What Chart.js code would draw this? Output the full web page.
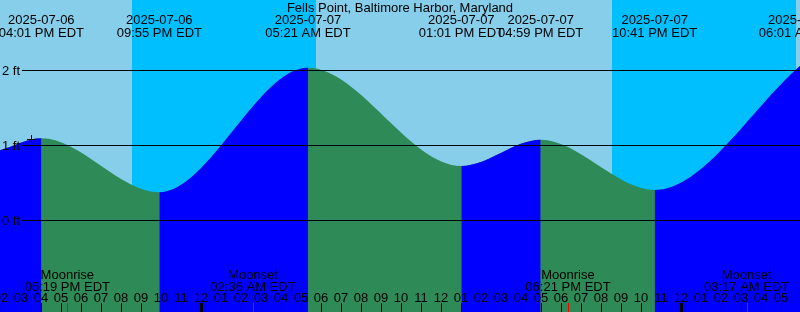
<!DOCTYPE html>
<html>
<head>
<meta charset="utf-8">
<script src="https://cdn.jsdelivr.net/npm/chart.js@4/dist/chart.umd.min.js"></script>
<style>
  body { margin: 0; background: #fff; }
  #tide { display: block; }
</style>
</head>
<body>
<canvas id="tide" width="800" height="312"></canvas>
<script>
// hours counted from 2025-07-06 00:00 EDT
const tideHours = [13.95, 16.017, 21.917, 29.35, 37.017, 40.983, 46.683, 54.017];
const tideFeet = [0.93, 1.09, 0.37, 2.03, 0.72, 1.07, 0.40, 2.07];

// high / low labels along the top (first point is just the window edge)
const eventHours = [16.017, 21.917, 29.35, 37.017, 40.983, 46.683, 54.017];
const eventDates = ['2025-07-06', '2025-07-06', '2025-07-07', '2025-07-07', '2025-07-07', '2025-07-07', '2025-07-08'];
const eventTimes = ['04:01 PM EDT', '09:55 PM EDT', '05:21 AM EDT', '01:01 PM EDT', '04:59 PM EDT', '10:41 PM EDT', '06:01 AM EDT'];

const sunsetHours = [20.55, 44.55];
const sunriseHours = [29.75, 53.75];

const moonHours = [17.317, 26.6, 42.35, 51.283];
const moonNames = ['Moonrise', 'Moonset', 'Moonrise', 'Moonset'];
const moonTimes = ['05:19 PM EDT', '02:36 AM EDT', '06:21 PM EDT', '03:17 AM EDT'];

const nowHour = 15.525;
const nowFeet = 1.073;

const feetTicks = [0, 1, 2];
const title = 'Fells Point, Baltimore Harbor, Maryland';

const startHour = 13.95, endHour = 53.95;
const FONT = '13px "Liberation Sans", Arial, sans-serif';

const tidePlugin = {
  id: 'tide',
  beforeDatasetsDraw(chart) {
    const {ctx, chartArea, scales: {x}} = chart;
    ctx.save();
    ctx.fillStyle = '#87ceeb';
    ctx.fillRect(chartArea.left, chartArea.top, chartArea.width, chartArea.height);
    ctx.fillStyle = '#00bfff';
    sunsetHours.forEach((s, i) => {
      const x0 = x.getPixelForValue(s);
      const x1 = x.getPixelForValue(sunriseHours[i]);
      ctx.fillRect(x0, chartArea.top, x1 - x0, chartArea.height);
    });
    ctx.restore();
  },
  afterDatasetsDraw(chart) {
    const {ctx, chartArea, scales: {x, y}} = chart;
    ctx.save();
    // level lines
    ctx.strokeStyle = '#000';
    ctx.lineWidth = 1;
    ctx.font = FONT;
    ctx.fillStyle = '#000';
    ctx.textBaseline = 'alphabetic';
    feetTicks.forEach(f => {
      const py = Math.round(y.getPixelForValue(f)) + 0.5;
      ctx.beginPath();
      ctx.moveTo(22, py);
      ctx.lineTo(chartArea.right, py);
      ctx.stroke();
      ctx.textAlign = 'left';
      ctx.fillText(f + ' ft', 2, py + 4.5);
    });

    // title
    ctx.textAlign = 'center';
    ctx.fillText(title, (chartArea.left + chartArea.right) / 2, 12);

    // tide events
    eventHours.forEach((h, i) => {
      const px = x.getPixelForValue(h);
      ctx.fillText(eventDates[i], px, 24);
      ctx.fillText(eventTimes[i], px, 37);
    });

    // moon events
    moonHours.forEach((h, i) => {
      const px = x.getPixelForValue(h);
      ctx.fillText(moonNames[i], px, 279);
      ctx.fillText(moonTimes[i], px, 291);
    });

    // hour ticks
    for (let h = Math.ceil(startHour); h <= Math.floor(endHour); h++) {
      const px = Math.round(x.getPixelForValue(h));
      const label = String((h % 12) || 12).padStart(2, '0');
      ctx.fillText(label, px, 302);
      if (h % 24 === 0) ctx.fillRect(px - 1, 303, 3, 9);
      else ctx.fillRect(px, 303, 1, 9);
    }
    ctx.fillStyle = '#ff0000';
    moonHours.forEach(h => {
      ctx.fillRect(Math.round(x.getPixelForValue(h)), 303, 1, 9);
    });
    ctx.restore();
  }
};

const tidePoints = tideHours.map((h, i) => ({x: h, y: tideFeet[i]}));

new Chart(document.getElementById('tide'), {
  type: 'line',
  data: {
    datasets: [{
      // rising tide painted blue over the green layer
      data: tidePoints,
      order: 1,
      fill: 'start',
      backgroundColor: '#0000ff',
      borderWidth: 0,
      borderColor: 'rgba(0,0,0,0)',
      pointRadius: 0,
      cubicInterpolationMode: 'monotone',
      segment: {
        backgroundColor: c => c.p1.parsed.y > c.p0.parsed.y ? '#0000ff' : 'rgba(0,0,0,0)'
      }
    }, {
      // falling tide: whole area green underneath
      data: tidePoints,
      order: 2,
      fill: 'start',
      backgroundColor: '#2e8b57',
      borderWidth: 0,
      borderColor: 'rgba(0,0,0,0)',
      pointRadius: 0,
      cubicInterpolationMode: 'monotone'
    }, {
      type: 'scatter',
      order: 0,
      data: [{x: nowHour, y: nowFeet}],
      pointStyle: 'cross',
      pointRadius: 4.5,
      borderColor: '#000',
      borderWidth: 1,
      backgroundColor: '#000'
    }]
  },
  options: {
    responsive: false,
    animation: false,
    layout: {padding: 0, autoPadding: false},
    plugins: {legend: {display: false}, tooltip: {enabled: false}},
    scales: {
      x: {type: 'linear', display: false, min: startHour, max: endHour},
      y: {display: false, min: -92 / 75, max: 220 / 75}
    }
  },
  plugins: [tidePlugin]
});
</script>
</body>
</html>
